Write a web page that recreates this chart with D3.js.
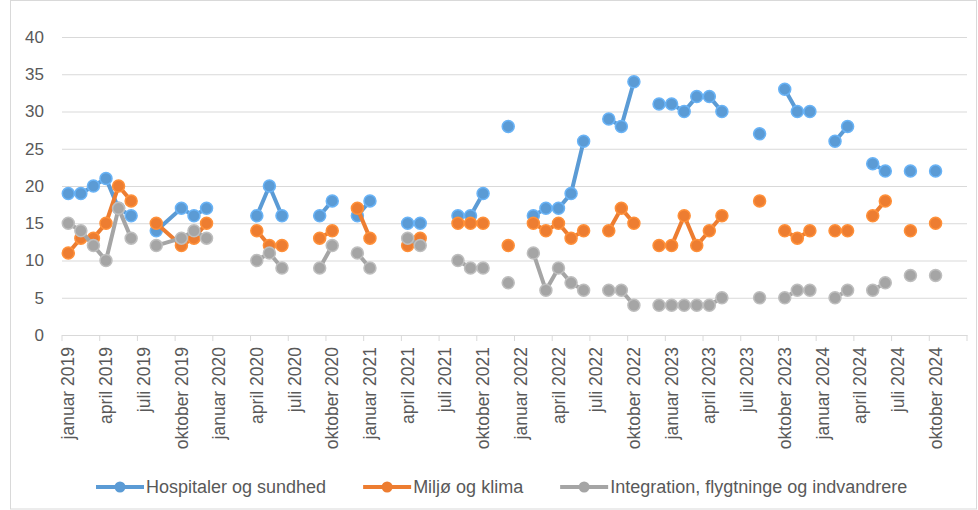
<!DOCTYPE html>
<html>
<head>
<meta charset="utf-8">
<script src="https://cdn.jsdelivr.net/npm/d3@7"></script>
<style>
  body { margin: 0; background: #fff; }
  svg text { font-family: "Liberation Sans", Arial, sans-serif; fill: #595959; }
</style>
</head>
<body>
<svg id="chart" width="978" height="510"></svg>
<script>
"use strict";

// data rows, one per month (no row for september 2019, so the lines run across it)
const months = [
  "2019-01","2019-02","2019-03","2019-04","2019-05","2019-06","2019-07","2019-08","2019-10","2019-11","2019-12",
  "2020-01","2020-02","2020-03","2020-04","2020-05","2020-06","2020-07","2020-08","2020-09","2020-10","2020-11","2020-12",
  "2021-01","2021-02","2021-03","2021-04","2021-05","2021-06","2021-07","2021-08","2021-09","2021-10","2021-11","2021-12",
  "2022-01","2022-02","2022-03","2022-04","2022-05","2022-06","2022-07","2022-08","2022-09","2022-10","2022-11","2022-12",
  "2023-01","2023-02","2023-03","2023-04","2023-05","2023-06","2023-07","2023-08","2023-09","2023-10","2023-11","2023-12",
  "2024-01","2024-02","2024-03","2024-04","2024-05","2024-06","2024-07","2024-08","2024-09","2024-10"
];

const hospitaler = [
  19, 19, 20, 21, 17, 16, null, 14, 17, 16, 17,
  null, null, null, 16, 20, 16, null, null, 16, 18, null, 16,
  18, null, null, 15, 15, null, null, 16, 16, 19, null, 28,
  null, 16, 17, 17, 19, 26, null, 29, 28, 34, null, 31,
  31, 30, 32, 32, 30, null, null, 27, null, 33, 30, 30,
  null, 26, 28, null, 23, 22, null, 22, null, 22
];

const miljoe = [
  11, 13, 13, 15, 20, 18, null, 15, 12, 13, 15,
  null, null, null, 14, 12, 12, null, null, 13, 14, null, 17,
  13, null, null, 12, 13, null, null, 15, 15, 15, null, 12,
  null, 15, 14, 15, 13, 14, null, 14, 17, 15, null, 12,
  12, 16, 12, 14, 16, null, null, 18, null, 14, 13, 14,
  null, 14, 14, null, 16, 18, null, 14, null, 15
];

const integration = [
  15, 14, 12, 10, 17, 13, null, 12, 13, 14, 13,
  null, null, null, 10, 11, 9, null, null, 9, 12, null, 11,
  9, null, null, 13, 12, null, null, 10, 9, 9, null, 7,
  null, 11, 6, 9, 7, 6, null, 6, 6, 4, null, 4,
  4, 4, 4, 4, 5, null, null, 5, null, 5, 6, 6,
  null, 5, 6, null, 6, 7, null, 8, null, 8
];

const seriesNames = ["Hospitaler og sundhed", "Miljø og klima", "Integration, flygtninge og indvandrere"];
const seriesColors = ["#5b9bd5", "#ed7d31", "#a5a5a5"];

const yTicks = [0, 5, 10, 15, 20, 25, 30, 35, 40];

const xTickLabels = [
  "januar 2019","april 2019","juli 2019","oktober 2019",
  "januar 2020","april 2020","juli 2020","oktober 2020",
  "januar 2021","april 2021","juli 2021","oktober 2021",
  "januar 2022","april 2022","juli 2022","oktober 2022",
  "januar 2023","april 2023","juli 2023","oktober 2023",
  "januar 2024","april 2024","juli 2024","oktober 2024"
];

const W = 978, H = 510;
const plot = { left: 62, right: 967, top: 37, bottom: 335 };

const svg = d3.select("#chart");

// chart frame
svg.append("rect")
  .attr("x", 10.5).attr("y", 0.5)
  .attr("width", W - 12).attr("height", H - 1.5)
  .attr("fill", "none").attr("stroke", "#d9d9d9");

// the axis covers jan 2019 .. dec 2024, one band per month
let allMonths = d3.timeMonth.range(new Date(2019, 0, 1), new Date(2025, 0, 1)).map(d3.timeFormat("%Y-%m"));

let x = d3.scaleBand().domain(allMonths).range([plot.left, plot.right]);
let y = d3.scaleLinear().domain([0, 40]).range([plot.bottom, plot.top]);

// horizontal grid + y labels
let yAxis = svg.append("g")
  .attr("transform", `translate(${plot.left},0)`)
  .call(d3.axisLeft(y).tickValues(yTicks).tickSize(-(plot.right - plot.left)).tickPadding(18));
yAxis.select(".domain").remove();
yAxis.selectAll("line").attr("stroke", "#d9d9d9");
yAxis.selectAll("text").style("font-size", "17px");

// x axis: labels every quarter, tick marks on the band edges
let labelMonths = allMonths.filter((m, i) => i % 3 === 0).slice(0, xTickLabels.length);

let xAxis = svg.append("g")
  .attr("transform", `translate(0,${plot.bottom})`)
  .call(d3.axisBottom(x).tickValues(labelMonths).tickSize(0)
    .tickFormat((d, i) => xTickLabels[i]));
xAxis.select(".domain").attr("stroke", "#d9d9d9");
xAxis.selectAll("text")
  .style("font-size", "17.5px")
  .attr("text-anchor", "end")
  .attr("transform", "rotate(-90)")
  .attr("x", -12)
  .attr("y", 0)
  .attr("dy", "0.35em");

let edges = allMonths.filter((m, i) => i % 3 === 0).map(m => x(m)).concat([plot.right]);
svg.append("g").selectAll("line").data(edges).enter().append("line")
  .attr("x1", d => d).attr("x2", d => d)
  .attr("y1", plot.bottom).attr("y2", plot.bottom + 6)
  .attr("stroke", "#d9d9d9");

// series
let seriesValues = [hospitaler, miljoe, integration];
let cx = m => x(m) + x.bandwidth() / 2;

let line = d3.line()
  .defined(d => d.v !== null)
  .x(d => cx(d.m))
  .y(d => y(d.v));

seriesValues.forEach((vals, k) => {
  let rows = months.map((m, i) => ({ m: m, v: vals[i] }));
  let g = svg.append("g");
  g.append("path")
    .datum(rows)
    .attr("d", line)
    .attr("fill", "none")
    .attr("stroke", seriesColors[k])
    .attr("stroke-width", 4)
    .attr("stroke-linejoin", "round");
  g.selectAll("circle").data(rows.filter(d => d.v !== null)).enter().append("circle")
    .attr("cx", d => cx(d.m))
    .attr("cy", d => y(d.v))
    .attr("r", 6)
    .attr("fill", seriesColors[k])
    .attr("stroke", d3.color(seriesColors[k]).brighter(0.4))
    .attr("stroke-width", 1.5);
});

// legend
let legend = svg.append("g").attr("transform", "translate(96,487)");
let lx = 0;
seriesNames.forEach((name, k) => {
  let item = legend.append("g").attr("transform", `translate(${lx},0)`);
  item.append("line")
    .attr("x1", 0).attr("x2", 48)
    .attr("stroke", seriesColors[k]).attr("stroke-width", 4);
  item.append("circle")
    .attr("cx", 24).attr("r", 5.5)
    .attr("fill", seriesColors[k]);
  let t = item.append("text")
    .attr("x", 50).attr("dy", "0.35em")
    .style("font-size", "18px")
    .text(name);
  lx += 50 + t.node().getComputedTextLength() + 37;
});
</script>
</body>
</html>
